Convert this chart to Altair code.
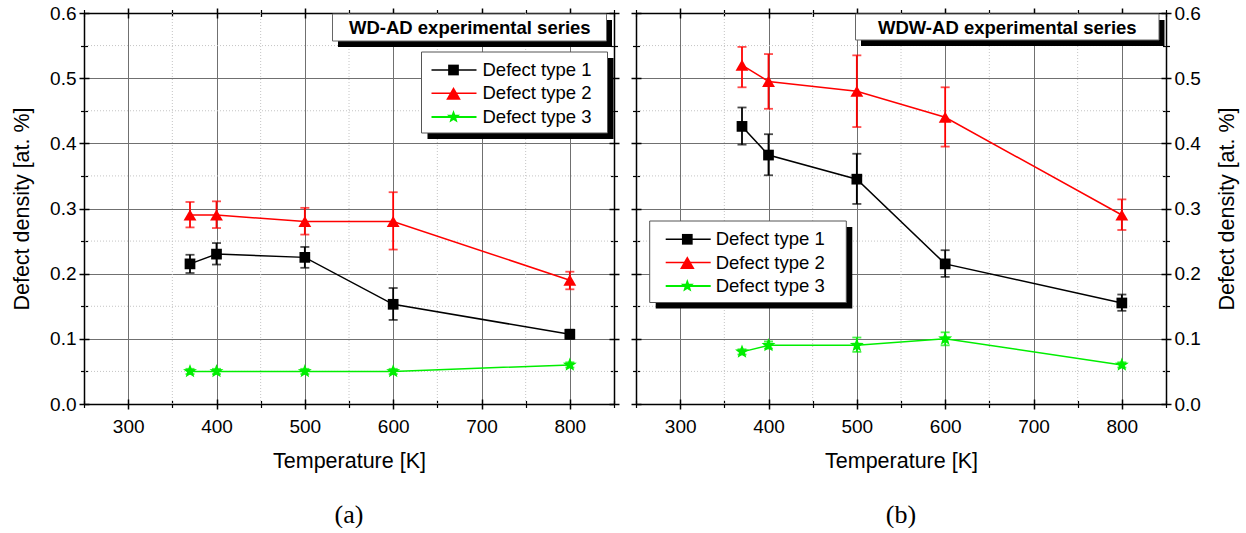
import math
import altair as alt
import pandas as pd

# ---------------- data ----------------
temps = [370, 400, 500, 600, 800]
series_names = ["Defect type 1", "Defect type 2", "Defect type 3"]

# (a) WD-AD experimental series
a_type1 = [0.215, 0.230, 0.225, 0.153, 0.107]
a_type1_lo = [0.201, 0.214, 0.209, 0.129, 0.100]
a_type1_hi = [0.229, 0.247, 0.241, 0.178, 0.114]
a_type2 = [0.290, 0.290, 0.280, 0.280, 0.190]
a_type2_lo = [0.271, 0.270, 0.260, 0.237, 0.176]
a_type2_hi = [0.310, 0.311, 0.301, 0.325, 0.203]
a_type3 = [0.050, 0.050, 0.050, 0.050, 0.060]
a_type3_lo = [0.046, 0.046, 0.046, 0.046, 0.056]
a_type3_hi = [0.054, 0.054, 0.054, 0.054, 0.064]

# (b) WDW-AD experimental series
b_type1 = [0.426, 0.382, 0.345, 0.215, 0.155]
b_type1_lo = [0.398, 0.351, 0.307, 0.195, 0.143]
b_type1_hi = [0.455, 0.414, 0.384, 0.236, 0.168]
b_type2 = [0.520, 0.495, 0.480, 0.440, 0.290]
b_type2_lo = [0.486, 0.453, 0.425, 0.395, 0.267]
b_type2_hi = [0.548, 0.537, 0.535, 0.486, 0.314]
b_type3 = [0.080, 0.090, 0.090, 0.100, 0.060]
b_type3_lo = [0.076, 0.085, 0.080, 0.090, 0.056]
b_type3_hi = [0.084, 0.096, 0.102, 0.110, 0.064]

x_major = [300, 400, 500, 600, 700, 800]
x_minor = [250, 350, 450, 550, 650, 750, 850]
x_minor_grid = [350, 450, 550, 650, 750]
y_major = [0.0, 0.1, 0.2, 0.3, 0.4, 0.5, 0.6]
y_minor = [0.05, 0.15, 0.25, 0.35, 0.45, 0.55]

# ---------------- styles ----------------
FONT = "Liberation Sans"
COLORS = ["#000000", "#ff0000", "#00ee00"]
# star path (unit coordinates)
pts = []
for k in range(10):
    r = 1.0 if k % 2 == 0 else 0.42
    ang = -math.pi / 2 + k * math.pi / 5
    pts.append(f"{r * math.cos(ang):.3f},{r * math.sin(ang):.3f}")
STAR = "M" + "L".join(pts) + "Z"
SHAPES = ["square", "triangle-up", STAR]
SIZES = [115, 215, 190]
WIDTHS = [1.5, 1.5, 2.0]
GRID = "#707070"
MINOR_GRID = "#c4c4c4"
W, H = 530, 391

xs = alt.Scale(domain=[250, 850], nice=False, zero=False)
ys = alt.Scale(domain=[0, 0.6], nice=False, zero=False)
cscale = alt.Scale(domain=series_names, range=COLORS)
shscale = alt.Scale(domain=series_names, range=SHAPES)
szscale = alt.Scale(domain=series_names, range=SIZES)
swscale = alt.Scale(domain=series_names, range=WIDTHS)


def make_df(vals, los, his):
    rows = []
    for s, v, lo, hi in zip(series_names, vals, los, his):
        for t, a, b, c in zip(temps, v, lo, hi):
            rows.append({"T": t, "v": a, "lo": b, "hi": c, "s": s})
    return pd.DataFrame(rows)


def main_x():
    return alt.Axis(orient="bottom", values=x_major, grid=True, gridColor=GRID,
                    gridWidth=1, ticks=False, tickSize=0, domain=True,
                    domainColor="black", domainWidth=1.5, labels=True,
                    labelFont=FONT, labelFontSize=19, labelColor="black",
                    labelPadding=13, labelFlush=False, labelOverlap=False,
                    title="Temperature [K]", titleFont=FONT, titleFontSize=21.5,
                    titleFontWeight="normal", titleColor="black", titlePadding=14)


def main_y(orient):
    return alt.Axis(orient=orient, values=y_major, format=".1f", grid=True,
                    gridColor=GRID, gridWidth=1, ticks=False, tickSize=0,
                    domain=True, domainColor="black", domainWidth=1.5,
                    labels=True, labelFont=FONT, labelFontSize=19,
                    labelColor="black", labelPadding=8, labelFlush=False,
                    labelOverlap=False, title="Defect density [at. %]",
                    titleFont=FONT, titleFontSize=21.5, titleFontWeight="normal",
                    titleColor="black", titlePadding=16, titleAngle=270,
                    titleBaseline="bottom" if orient == "left" else "top")


def cross(orient, values, major=True):
    return alt.Axis(orient=orient, values=values, offset=-5 if major else -3.5,
                    tickSize=10 if major else 7, tickWidth=1.5 if major else 1.2,
                    tickColor="black", domain=False, labels=False, grid=False,
                    title=None)


def frame(orient):
    return alt.Axis(orient=orient, domain=True, domainColor="black",
                    domainWidth=1.5, ticks=False, labels=False, grid=False,
                    title=None)


def one():
    return pd.DataFrame({"k": [1]})


def box(x1, x2, y1, y2, fill, stroke=None):
    kw = dict(fill=fill)
    if stroke:
        kw.update(stroke=stroke, strokeWidth=1)
    else:
        kw.update(strokeWidth=0)
    return alt.Chart(one()).mark_rect(**kw).encode(
        x=alt.value(x1), x2=alt.value(x2), y=alt.value(y1), y2=alt.value(y2))


def panel(df, side, box_title, tb, lg, label):
    other = "right" if side == "left" else "left"
    layers = []
    # minor dotted grid
    layers.append(alt.Chart(pd.DataFrame({"m": x_minor_grid})).mark_rule(
        color=MINOR_GRID, strokeDash=[1, 2], strokeWidth=1).encode(
        x=alt.X("m:Q", scale=xs, axis=None)))
    layers.append(alt.Chart(pd.DataFrame({"m": y_minor})).mark_rule(
        color=MINOR_GRID, strokeDash=[1, 2], strokeWidth=1).encode(
        y=alt.Y("m:Q", scale=ys, axis=None)))
    # axes carried by invisible layers
    axis_pairs = [
        (main_x(), main_y(side)),
        (cross("bottom", x_major), cross(side, y_major)),
        (cross("bottom", x_minor, False), cross(side, y_minor, False)),
        (frame("top"), frame(other)),
        (cross("top", x_major), cross(other, y_major)),
        (cross("top", x_minor, False), cross(other, y_minor, False)),
    ]
    for xa, ya in axis_pairs:
        layers.append(alt.Chart(df).mark_point(opacity=0).encode(
            x=alt.X("T:Q", scale=xs, axis=xa),
            y=alt.Y("v:Q", scale=ys, axis=ya)))
    # data
    base = alt.Chart(df)
    layers.append(base.mark_rule(strokeWidth=1.8).encode(
        x=alt.X("T:Q", scale=xs, axis=None),
        y=alt.Y("lo:Q", scale=ys, axis=None), y2="hi:Q",
        color=alt.Color("s:N", scale=cscale, legend=None)))
    for fld in ["lo", "hi"]:
        layers.append(base.mark_tick(orient="horizontal", size=9, thickness=1.8).encode(
            x=alt.X("T:Q", scale=xs, axis=None),
            y=alt.Y(f"{fld}:Q", scale=ys, axis=None),
            color=alt.Color("s:N", scale=cscale, legend=None)))
    layers.append(base.mark_line().encode(
        x=alt.X("T:Q", scale=xs, axis=None),
        y=alt.Y("v:Q", scale=ys, axis=None),
        color=alt.Color("s:N", scale=cscale, legend=None),
        strokeWidth=alt.StrokeWidth("s:N", scale=swscale, legend=None),
        detail="s:N"))
    layers.append(base.mark_point(filled=True, opacity=1).encode(
        x=alt.X("T:Q", scale=xs, axis=None),
        y=alt.Y("v:Q", scale=ys, axis=None),
        color=alt.Color("s:N", scale=cscale, legend=None),
        shape=alt.Shape("s:N", scale=shscale, legend=None),
        size=alt.Size("s:N", scale=szscale, legend=None)))
    # title box with shadow
    bx1, bx2, by1, by2, tx, ty = tb
    layers.append(box(bx1 + 5.5, bx2 + 5.5, by1 + 6, by2 + 6, "black"))
    layers.append(box(bx1, bx2, by1, by2, "white", "#666666"))
    layers.append(alt.Chart(one()).mark_text(
        font=FONT, fontSize=18.5, fontWeight="bold", color="black",
        align="center", baseline="middle").encode(
        x=alt.value(tx), y=alt.value(ty), text=alt.value(box_title)))
    # legend with shadow
    lx1, lx2, ly1, ly2, rows, l1, l2, mx, txx = lg
    layers.append(box(lx1 + 6, lx2 + 6, ly1 + 6, ly2 + 6, "black"))
    layers.append(box(lx1, lx2, ly1, ly2, "white", "#555555"))
    for i, name in enumerate(series_names):
        yy = rows[i]
        layers.append(alt.Chart(one()).mark_rule(
            color=COLORS[i], strokeWidth=WIDTHS[i]).encode(
            x=alt.value(l1), x2=alt.value(l2), y=alt.value(yy)))
        layers.append(alt.Chart(one()).mark_point(
            filled=True, opacity=1, color=COLORS[i], shape=SHAPES[i],
            size=SIZES[i]).encode(x=alt.value(mx), y=alt.value(yy)))
        layers.append(alt.Chart(one()).mark_text(
            font=FONT, fontSize=18.5, color="black", align="left",
            baseline="middle").encode(
            x=alt.value(txx), y=alt.value(yy), text=alt.value(name)))
    return alt.layer(*layers).resolve_axis(
        x="independent", y="independent").properties(
        width=W, height=H,
        title=alt.TitleParams(text=label, orient="bottom", anchor="middle",
                              font="Liberation Serif", fontSize=26,
                              fontWeight="normal", color="black", offset=30))


df_a = make_df([a_type1, a_type2, a_type3],
               [a_type1_lo, a_type2_lo, a_type3_lo],
               [a_type1_hi, a_type2_hi, a_type3_hi])
df_b = make_df([b_type1, b_type2, b_type3],
               [b_type1_lo, b_type2_lo, b_type3_lo],
               [b_type1_hi, b_type2_hi, b_type3_hi])

pa = panel(df_a, "left", "WD-AD experimental series",
           (248.5, 522.5, 1, 28, 385.8, 15),
           (337.5, 523.5, 39, 120, [57, 80.3, 104], 347.5, 392.5, 369.5, 398.5),
           "(a)")
pb = panel(df_b, "right", "WDW-AD experimental series",
           (219.5, 523, 1, 27, 371.3, 14.5),
           (13.7, 210.3, 208, 289.5, [226.3, 249.6, 273], 29.7, 74.7, 51.3, 79.7),
           "(b)")

chart = alt.hconcat(pa, pb, spacing=8).properties(
    padding={"left": 11, "top": 3, "right": 5, "bottom": 0},
    background="white",
).configure_view(stroke="transparent")

chart.save("out.html", embed_options={"renderer": "svg", "actions": False})
